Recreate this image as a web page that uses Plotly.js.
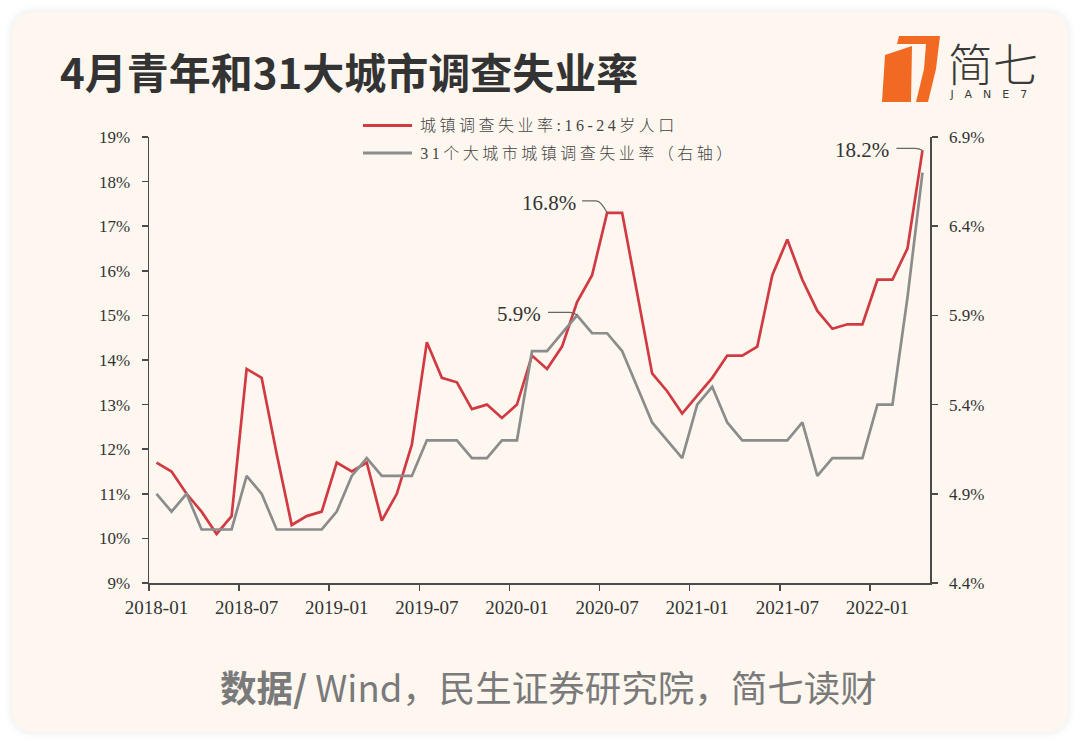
<!DOCTYPE html>
<html>
<head>
<meta charset="utf-8">
<script src="https://cdn.plot.ly/plotly-3.0.1.min.js"></script>
<style>
  html, body { margin: 0; padding: 0; background: #ffffff; }
  #wrap { position: relative; width: 1080px; height: 744px; overflow: hidden; background: #ffffff; }
  #card { position: absolute; left: 12px; top: 12px; width: 1056px; height: 720px;
          border-radius: 20px; background: #fdf7f0;
          box-shadow: 0 0 10px rgba(0,0,0,0.10); }
  #chart { position: absolute; left: 0; top: 0; width: 1080px; height: 744px; }
</style>
</head>
<body>
<div id="wrap">
  <div id="card"></div>
  <div id="chart"></div>
</div>
<script>
// ---- data ----
const months = [
  "2018-01","2018-02","2018-03","2018-04","2018-05","2018-06","2018-07","2018-08","2018-09","2018-10","2018-11","2018-12",
  "2019-01","2019-02","2019-03","2019-04","2019-05","2019-06","2019-07","2019-08","2019-09","2019-10","2019-11","2019-12",
  "2020-01","2020-02","2020-03","2020-04","2020-05","2020-06","2020-07","2020-08","2020-09","2020-10","2020-11","2020-12",
  "2021-01","2021-02","2021-03","2021-04","2021-05","2021-06","2021-07","2021-08","2021-09","2021-10","2021-11","2021-12",
  "2022-01","2022-02","2022-03","2022-04"
];
const youthRate = [
  11.7,11.5,11.0,10.6,10.1,10.5,13.8,13.6,11.9,10.3,10.5,10.6,
  11.7,11.5,11.7,10.4,11.0,12.1,14.4,13.6,13.5,12.9,13.0,12.7,
  13.0,14.1,13.8,14.3,15.3,15.9,17.3,17.3,15.5,13.7,13.3,12.8,
  13.2,13.6,14.1,14.1,14.3,15.9,16.7,15.8,15.1,14.7,14.8,14.8,
  15.8,15.8,16.5,18.7
];
const cityRate = [
  4.9,4.8,4.9,4.7,4.7,4.7,5.0,4.9,4.7,4.7,4.7,4.7,
  4.8,5.0,5.1,5.0,5.0,5.0,5.2,5.2,5.2,5.1,5.1,5.2,
  5.2,5.7,5.7,5.8,5.9,5.8,5.8,5.7,5.5,5.3,5.2,5.1,
  5.4,5.5,5.3,5.2,5.2,5.2,5.2,5.3,5.0,5.1,5.1,5.1,
  5.4,5.4,6.0,6.7
];
const labelMonths = ["2018-01","2018-07","2019-01","2019-07","2020-01","2020-07","2021-01","2021-07","2022-01"];
const seriesNames = ["城镇调查失业率:16-24岁人口", "31个大城市城镇调查失业率（右轴）"];
const calloutText = { youthPeak: "16.8%", cityPeak: "5.9%", youthLast: "18.2%" };
const calloutMonths = { youthPeak: "2020-07", cityPeak: "2020-05" };

// ---- derived positions ----
const xIdx = months.map((m, i) => i);
const labelIdx = labelMonths.map(m => months.indexOf(m));
const boundaryIdx = labelIdx.map(i => i - 0.5);
const youthPeakIdx = months.indexOf(calloutMonths.youthPeak);
const cityPeakIdx = months.indexOf(calloutMonths.cityPeak);
const lastIdx = months.length - 1;

const RED = "#d23a43";
const GRAY = "#8c8c8c";
const AXC = "#4a4a4a";
const serif = "Liberation Serif, Times New Roman, serif";
const tickFont = { family: serif, size: 17, color: "#333333" };
const xTickFont = { family: serif, size: 19, color: "#333333" };
const LS_LEGEND = 3.5, LS_JANE = 11;

const traces = [
  { x: xIdx, y: youthRate, type: "scatter", mode: "lines", name: seriesNames[0],
    line: { color: RED, width: 2.7 }, xaxis: "x", yaxis: "y", hoverinfo: "skip" },
  { x: xIdx, y: cityRate, type: "scatter", mode: "lines", name: seriesNames[1],
    line: { color: GRAY, width: 2.7 }, xaxis: "x2", yaxis: "y2", hoverinfo: "skip" }
];

const xr = [-0.5, months.length - 0.5];

const layout = {
  width: 1080, height: 744,
  margin: { l: 149, r: 150, t: 137, b: 161, pad: 0 },
  paper_bgcolor: "rgba(0,0,0,0)",
  plot_bgcolor: "rgba(0,0,0,0)",
  showlegend: false,
  xaxis: {
    range: xr, tickmode: "array", tickvals: boundaryIdx, showticklabels: false,
    ticks: "outside", ticklen: 6, tickwidth: 1.5, tickcolor: AXC,
    showline: true, linecolor: AXC, linewidth: 1.5, showgrid: false, zeroline: false, fixedrange: true
  },
  xaxis2: {
    range: xr, overlaying: "x", anchor: "y", side: "bottom",
    tickmode: "array", tickvals: labelIdx, ticktext: labelMonths,
    ticks: "", showline: false, showgrid: false, zeroline: false,
    tickfont: xTickFont, ticklabelstandoff: 11, fixedrange: true
  },
  yaxis: {
    range: [9, 19], dtick: 1, tick0: 9, ticksuffix: "%",
    ticks: "outside", ticklen: 6, tickwidth: 1.5, tickcolor: AXC,
    showline: true, linecolor: AXC, linewidth: 1.5, showgrid: false, zeroline: false,
    tickfont: tickFont, ticklabelstandoff: 8, fixedrange: true
  },
  yaxis2: {
    range: [4.4, 6.9], overlaying: "y", side: "right", anchor: "x",
    tick0: 4.4, dtick: 0.5, tickformat: ".1f", ticksuffix: "%",
    ticks: "outside", ticklen: 6, tickwidth: 1.5, tickcolor: AXC,
    showline: true, linecolor: AXC, linewidth: 1.5, showgrid: false, zeroline: false,
    tickfont: tickFont, ticklabelstandoff: 8, fixedrange: true
  },
  shapes: [
    // callout leaders (pixel paths anchored at data points)
    { type: "path", xref: "x", yref: "y", xsizemode: "pixel", ysizemode: "pixel",
      xanchor: youthPeakIdx, yanchor: youthRate[youthPeakIdx],
      path: "M-25,12 L-11,12 Q-6,12 0,0", line: { color: "#666", width: 1.2 } },
    { type: "path", xref: "x2", yref: "y2", xsizemode: "pixel", ysizemode: "pixel",
      xanchor: cityPeakIdx, yanchor: cityRate[cityPeakIdx],
      path: "M-29,3 L-8,3 Q-3,3 0,0", line: { color: "#666", width: 1.2 } },
    { type: "path", xref: "x", yref: "y", xsizemode: "pixel", ysizemode: "pixel",
      xanchor: lastIdx, yanchor: youthRate[lastIdx],
      path: "M-26,2 L-8,2 Q-3,2 0,0", line: { color: "#666", width: 1.2 } },
    // legend samples
    { type: "line", xref: "paper", yref: "paper", xsizemode: "pixel", ysizemode: "pixel",
      xanchor: 0, yanchor: 1, x0: 214, x1: 263, y0: 11.5, y1: 11.5, line: { color: RED, width: 3 } },
    { type: "line", xref: "paper", yref: "paper", xsizemode: "pixel", ysizemode: "pixel",
      xanchor: 0, yanchor: 1, x0: 214, x1: 263, y0: -16, y1: -16, line: { color: GRAY, width: 3 } },
    // logo mark (orange), anchored at plot top-left corner (149,137)
    { type: "path", xref: "paper", yref: "paper", xsizemode: "pixel", ysizemode: "pixel",
      xanchor: 0, yanchor: 1, fillcolor: "#f26a21", line: { width: 0 },
      path: "M750,101 L791,101 L787,68 L779,35 L767,35 L775,68 L777,93 L748,93 Z" },
    { type: "path", xref: "paper", yref: "paper", xsizemode: "pixel", ysizemode: "pixel",
      xanchor: 0, yanchor: 1, fillcolor: "#f26a21", line: { width: 0 },
      path: "M736,82 L763,91 L762,35 L733,35 Z" }
  ],
  annotations: [
    { xref: "paper", yref: "paper", x: 0, y: 1, xanchor: "left", yanchor: "middle",
      xshift: -91, yshift: 67, text: "4月青年和31大城市调查失业率", showarrow: false,
      font: { family: "Noto Sans CJK SC", size: 42, color: "#333333", weight: 700 } },
    { xref: "paper", yref: "paper", x: 0, y: 1, xanchor: "left", yanchor: "middle",
      xshift: 797, yshift: 75, text: "简七", showarrow: false,
      font: { family: "Noto Sans CJK SC", size: 45, color: "#3a3a3a", weight: 300 } },
    { xref: "paper", yref: "paper", x: 0, y: 1, xanchor: "left", yanchor: "middle",
      xshift: 798 + LS_JANE * 5 / 2, yshift: 43, text: "JANE7", showarrow: false,
      font: { family: "DejaVu Sans", size: 11, color: "#3a3a3a" } },
    // legend texts
    { xref: "paper", yref: "paper", x: 0, y: 1, xanchor: "left", yanchor: "middle",
      xshift: 269 + LS_LEGEND * 16 / 2, yshift: 11.5, text: seriesNames[0], showarrow: false,
      font: { family: "Liberation Serif, Noto Sans CJK SC", size: 16, color: "#444444", weight: 300 } },
    { xref: "paper", yref: "paper", x: 0, y: 1, xanchor: "left", yanchor: "middle",
      xshift: 269 + LS_LEGEND * 17 / 2, yshift: -16, text: seriesNames[1], showarrow: false,
      font: { family: "Liberation Serif, Noto Sans CJK SC", size: 16, color: "#444444", weight: 300 } },
    // callouts
    { xref: "x", yref: "y", x: youthPeakIdx, y: youthRate[youthPeakIdx], xanchor: "right", yanchor: "middle",
      xshift: -29, yshift: 10, text: calloutText.youthPeak, showarrow: false,
      font: { family: serif, size: 21, color: "#333333" } },
    { xref: "x2", yref: "y2", x: cityPeakIdx, y: cityRate[cityPeakIdx], xanchor: "right", yanchor: "middle",
      xshift: -34, yshift: 1, text: calloutText.cityPeak, showarrow: false,
      font: { family: serif, size: 21, color: "#333333" } },
    { xref: "x", yref: "y", x: lastIdx, y: youthRate[lastIdx], xanchor: "right", yanchor: "middle",
      xshift: -31, yshift: 0, text: calloutText.youthLast, showarrow: false,
      font: { family: serif, size: 21, color: "#333333" } },
    // footer
    { xref: "paper", yref: "paper", x: 0.5, y: 0, xanchor: "center", yanchor: "middle",
      xshift: 9, yshift: -103,
      text: "<b>数据/</b> Wind，民生证券研究院，简七读财", showarrow: false,
      font: { family: "Noto Sans CJK SC", size: 36.5, color: "#7a7a7a" } }
  ]
};

Plotly.newPlot("chart", traces, layout, { staticPlot: true, displayModeBar: false }).then(() => {
  document.querySelectorAll("#chart .annotation-text").forEach(t => {
    const s = t.textContent;
    if (s === seriesNames[0] || s === seriesNames[1]) t.style.letterSpacing = LS_LEGEND + "px";
    if (s === "JANE7") t.style.letterSpacing = LS_JANE + "px";
  });
});
</script>
</body>
</html>
